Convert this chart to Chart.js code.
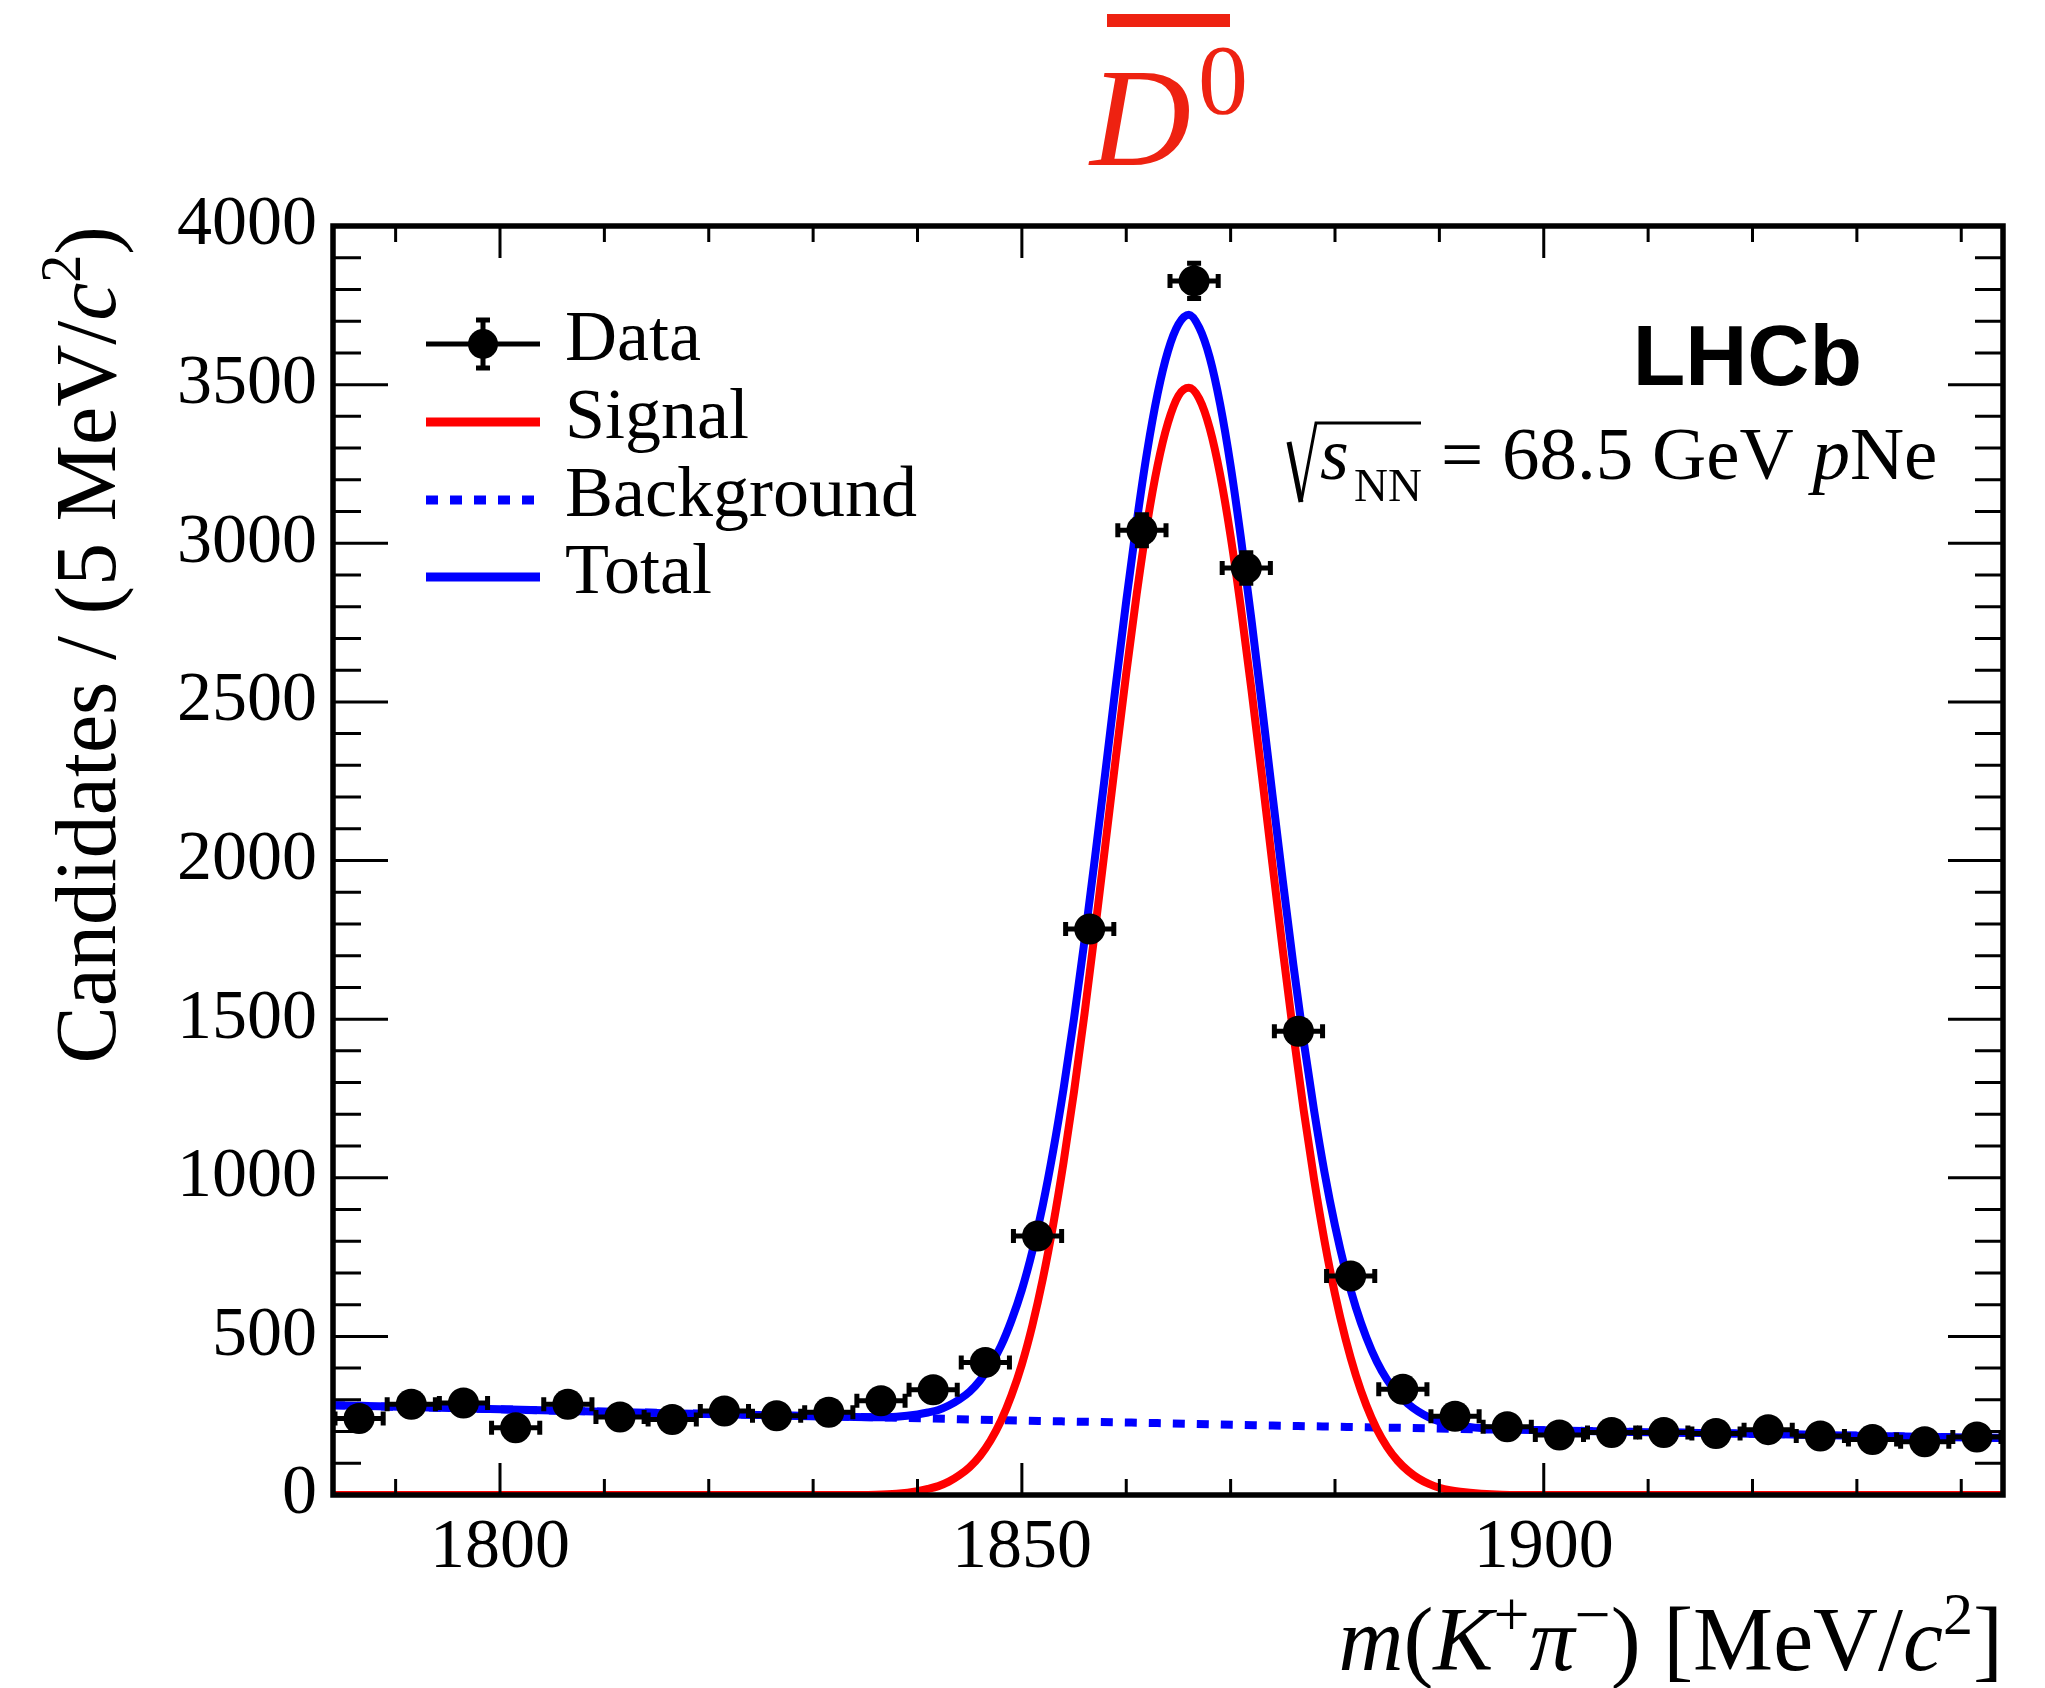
<!DOCTYPE html>
<html>
<head>
<meta charset="utf-8">
<title>D0bar mass fit</title>
<script src="https://cdn.jsdelivr.net/npm/chart.js@4.4.1/dist/chart.umd.min.js"></script>
<style>
  html, body { margin: 0; padding: 0; background: #fff; }
  canvas { display: block; }
</style>
</head>
<body>
<canvas id="massPlot" width="2045" height="1688"></canvas>
<script>
// candidates per 5 MeV bin, 1784 - 1944 MeV
const binCentres = [1786.5, 1791.5, 1796.5, 1801.5, 1806.5, 1811.5, 1816.5, 1821.5,
  1826.5, 1831.5, 1836.5, 1841.5, 1846.5, 1851.5, 1856.5, 1861.5,
  1866.5, 1871.5, 1876.5, 1881.5, 1886.5, 1891.5, 1896.5, 1901.5,
  1906.5, 1911.5, 1916.5, 1921.5, 1926.5, 1931.5, 1936.5, 1941.5];
const candidates = [241, 286, 290, 212, 286, 246, 238, 265,
  250, 261, 297, 332, 418, 816, 1784, 3041,
  3827, 2922, 1462, 690, 333, 248, 215, 189,
  197, 197, 194, 206, 186, 175, 168, 183];
const candErrors = [16, 17, 17, 15, 17, 16, 15, 16,
  16, 16, 17, 18, 20, 29, 42, 55,
  62, 54, 38, 26, 18, 16, 15, 14,
  14, 14, 14, 14, 14, 13, 13, 14];
const binHalfWidth = 2.5;

// fit curves sampled along the mass axis
const fitMass = [1784, 1800, 1816, 1826, 1832, 1836, 1838,
  1840, 1841, 1842, 1843, 1844, 1845, 1846, 1847, 1848, 1849,
  1850, 1851, 1852, 1853, 1854, 1855, 1856, 1857, 1858, 1859,
  1860, 1861, 1862, 1863, 1864, 1865, 1866, 1867, 1868, 1869,
  1870, 1871, 1872, 1873, 1874, 1875, 1876, 1877, 1878, 1879,
  1880, 1881, 1882, 1883, 1884, 1885, 1886, 1887, 1888, 1889,
  1890, 1891, 1892, 1894, 1896, 1900, 1910, 1920, 1930, 1944];
const signalFit = [0, 0, 0, 0, 0, 1, 4,
  12, 19, 28, 42, 62, 88, 124, 172, 234, 314,
  412, 534, 680, 852, 1050, 1272, 1516, 1778, 2050, 2324,
  2590, 2840, 3062, 3245, 3380, 3465, 3490, 3455, 3362, 3215,
  3022, 2792, 2537, 2267, 1990, 1717, 1456, 1213, 994, 800,
  633, 493, 377, 283, 208, 151, 108, 76, 52, 35,
  23, 15, 10, 4, 1, 0, 0, 0, 0, 0];
const totalFit = [283, 270, 258, 251, 247, 245, 247,
  254, 260, 268, 282, 301, 326, 362, 409, 470, 550,
  647, 768, 913, 1085, 1282, 1503, 1747, 2008, 2279, 2553,
  2818, 3067, 3289, 3471, 3606, 3690, 3720, 3679, 3585, 3437,
  3244, 3013, 2758, 2487, 2209, 1936, 1674, 1430, 1211, 1016,
  849, 708, 591, 497, 421, 363, 320, 287, 263, 245,
  232, 224, 218, 211, 207, 204, 198, 193, 187, 180];
const bkgMass = [1784, 1794, 1804, 1814, 1824, 1834, 1844, 1854, 1864,
  1874, 1884, 1894, 1904, 1914, 1924, 1934, 1944];
const bkgFit = [283, 275, 267, 260, 253, 246, 239, 232, 226,
  219, 213, 207, 202, 196, 191, 185, 180];

const xTickValues = [1800, 1850, 1900];
const yTickValues = [0, 500, 1000, 1500, 2000, 2500, 3000, 3500, 4000];
const xMinorStep = 10;
const yMinorStep = 100;

const serif = '"Liberation Serif", "Times New Roman", serif';
const font = (size, style) => (style ? style + ' ' : '') + size + 'px ' + serif;
const titleRed = '#ee2211';

const toPoints = (xs, ys) => xs.map((x, i) => ({ x: x, y: ys[i] }));

// draw a row of text pieces (different fonts / raised or lowered parts)
function drawRuns(ctx, runs, x, y, align) {
  const widths = runs.map(r => { ctx.font = r.font; return ctx.measureText(r.t).width; });
  let cx = align === 'right' ? x - widths.reduce((a, b) => a + b, 0) : x;
  runs.forEach((r, i) => {
    ctx.font = r.font;
    ctx.fillText(r.t, cx, y + (r.dy || 0));
    cx += widths[i];
  });
}

const errorBars = {
  id: 'errorBars',
  beforeDatasetDraw(chart, args) {
    if (args.index !== 0) return;
    const { ctx, scales: { x, y } } = chart;
    ctx.save();
    ctx.strokeStyle = '#000';
    ctx.lineWidth = 5;
    binCentres.forEach((m, i) => {
      const px = x.getPixelForValue(m);
      const py = y.getPixelForValue(candidates[i]);
      const xl = x.getPixelForValue(m - binHalfWidth);
      const xr = x.getPixelForValue(m + binHalfWidth);
      const yt = y.getPixelForValue(candidates[i] + candErrors[i]);
      const yb = y.getPixelForValue(candidates[i] - candErrors[i]);
      ctx.beginPath();
      ctx.moveTo(xl, py); ctx.lineTo(xr, py);
      ctx.moveTo(px, yt); ctx.lineTo(px, yb);
      ctx.moveTo(xl + 2, py - 7); ctx.lineTo(xl + 2, py + 7);
      ctx.moveTo(xr - 2, py - 7); ctx.lineTo(xr - 2, py + 7);
      ctx.moveTo(px - 7, yt + 2); ctx.lineTo(px + 7, yt + 2);
      ctx.moveTo(px - 7, yb - 2); ctx.lineTo(px + 7, yb - 2);
      ctx.stroke();
    });
    ctx.restore();
  }
};

// closed frame with inward major and minor ticks on all four sides
const frame = {
  id: 'frame',
  afterDatasetsDraw(chart) {
    const { ctx, chartArea: a, scales: { x, y } } = chart;
    ctx.save();
    ctx.strokeStyle = '#000';
    ctx.lineWidth = 3;
    ctx.beginPath();
    for (let v = Math.ceil(x.min / xMinorStep) * xMinorStep; v <= x.max; v += xMinorStep) {
      const p = x.getPixelForValue(v);
      const len = xTickValues.includes(v) ? 32 : 16;
      ctx.moveTo(p, a.bottom); ctx.lineTo(p, a.bottom - len);
      ctx.moveTo(p, a.top); ctx.lineTo(p, a.top + len);
    }
    for (let v = y.min; v <= y.max; v += yMinorStep) {
      const p = y.getPixelForValue(v);
      const len = yTickValues.includes(v) ? 55 : 28;
      ctx.moveTo(a.left, p); ctx.lineTo(a.left + len, p);
      ctx.moveTo(a.right, p); ctx.lineTo(a.right - len, p);
    }
    ctx.stroke();
    ctx.lineWidth = 5.5;
    ctx.strokeRect(a.left, a.top, a.right - a.left, a.bottom - a.top);
    ctx.restore();
  }
};

const annotations = {
  id: 'annotations',
  afterDraw(chart) {
    const { ctx, chartArea: a } = chart;
    ctx.save();
    ctx.textAlign = 'left';
    ctx.textBaseline = 'alphabetic';

    // anti-D0 label above the frame
    ctx.fillStyle = titleRed;
    ctx.font = font(140, 'italic');
    ctx.fillText('D', 1090, 165);
    ctx.font = font(100);
    ctx.fillText('0', 1198, 113);
    ctx.fillRect(1107, 14, 123, 13);

    ctx.fillStyle = '#000';
    // axis titles
    drawRuns(ctx, [
      { t: 'm', font: font(90, 'italic') },
      { t: '(', font: font(90) },
      { t: 'K', font: font(90, 'italic') },
      { t: '+', font: font(64), dy: -34 },
      { t: 'π', font: font(90, 'italic') },
      { t: '−', font: font(64), dy: -34 },
      { t: ') [MeV/', font: font(90) },
      { t: 'c', font: font(90, 'italic') },
      { t: '2', font: font(60), dy: -36 },
      { t: ']', font: font(90) }
    ], a.right, 1670, 'right');

    ctx.save();
    ctx.translate(115, a.top);
    ctx.rotate(-Math.PI / 2);
    drawRuns(ctx, [
      { t: 'Candidates / (5 MeV/', font: font(86) },
      { t: 'c', font: font(86, 'italic') },
      { t: '2', font: font(56), dy: -35 },
      { t: ')', font: font(86) }
    ], 0, 0, 'right');
    ctx.restore();

    // experiment label and collision system
    ctx.font = 'bold 86px "Liberation Sans", Arial, sans-serif';
    ctx.textAlign = 'right';
    ctx.fillText('LHCb', 1862, 385);
    ctx.textAlign = 'left';

    ctx.strokeStyle = '#000';
    ctx.lineJoin = 'miter';
    ctx.lineWidth = 5;
    ctx.beginPath();
    ctx.moveTo(1289, 442); ctx.lineTo(1301, 502);
    ctx.stroke();
    ctx.lineWidth = 3;
    ctx.beginPath();
    ctx.moveTo(1301, 502); ctx.lineTo(1316, 423); ctx.lineTo(1421, 423);
    ctx.stroke();
    ctx.font = font(74, 'italic');
    ctx.fillText('s', 1320, 479);
    ctx.font = font(47);
    ctx.fillText('NN', 1354, 501);
    drawRuns(ctx, [
      { t: '= 68.5 GeV ', font: font(75) },
      { t: 'p', font: font(75, 'italic') },
      { t: 'Ne', font: font(75) }
    ], 1441, 479, 'left');

    // legend
    const lx0 = a.left + 93, lx1 = a.left + 207, tx = a.left + 232;
    const rows = [360, 438, 516, 593];
    chart.data.datasets.forEach((ds, i) => {
      const base = rows[i], cy = base - 16;
      ctx.save();
      if (i === 0) {
        const cx = (lx0 + lx1) / 2;
        ctx.strokeStyle = '#000';
        ctx.lineWidth = 5;
        ctx.beginPath();
        ctx.moveTo(lx0, cy); ctx.lineTo(lx1, cy);
        ctx.moveTo(cx, cy - 26); ctx.lineTo(cx, cy + 26);
        ctx.moveTo(cx - 7, cy - 24); ctx.lineTo(cx + 7, cy - 24);
        ctx.moveTo(cx - 7, cy + 24); ctx.lineTo(cx + 7, cy + 24);
        ctx.stroke();
        ctx.fillStyle = '#000';
        ctx.beginPath();
        ctx.arc(cx, cy, 15, 0, Math.PI * 2);
        ctx.fill();
      } else {
        ctx.strokeStyle = ds.borderColor;
        ctx.lineWidth = 9;
        ctx.setLineDash(ds.borderDash || []);
        ctx.beginPath();
        ctx.moveTo(lx0, cy); ctx.lineTo(lx1, cy);
        ctx.stroke();
      }
      ctx.restore();
      ctx.font = font(72);
      ctx.fillText(ds.label, tx, base);
    });
    ctx.restore();
  }
};

new Chart(document.getElementById('massPlot'), {
  type: 'scatter',
  data: {
    datasets: [
      {
        label: 'Data',
        data: toPoints(binCentres, candidates),
        backgroundColor: '#000',
        borderWidth: 0,
        pointRadius: 15.5,
        pointHoverRadius: 15.5,
        order: 0
      },
      {
        label: 'Signal',
        data: toPoints(fitMass, signalFit),
        showLine: true,
        borderColor: '#ff0000',
        borderWidth: 8,
        pointRadius: 0,
        cubicInterpolationMode: 'monotone',
        order: 1
      },
      {
        label: 'Background',
        data: toPoints(bkgMass, bkgFit),
        showLine: true,
        borderColor: '#0000ff',
        borderWidth: 8,
        borderDash: [12, 12],
        pointRadius: 0,
        cubicInterpolationMode: 'monotone',
        order: 3
      },
      {
        label: 'Total',
        data: toPoints(fitMass, totalFit),
        showLine: true,
        borderColor: '#0000ff',
        borderWidth: 8,
        pointRadius: 0,
        cubicInterpolationMode: 'monotone',
        order: 2
      }
    ]
  },
  options: {
    responsive: false,
    animation: false,
    devicePixelRatio: 1,
    layout: { padding: { top: 226, right: 42, left: 0, bottom: 0 } },
    plugins: {
      legend: { display: false },
      tooltip: { enabled: false }
    },
    scales: {
      x: {
        type: 'linear',
        min: 1784,
        max: 1944,
        grid: { display: false, drawTicks: false },
        border: { display: false },
        ticks: {
          color: '#000',
          padding: 12,
          font: { family: serif, size: 70 },
          callback: v => String(v)
        },
        afterBuildTicks: scale => { scale.ticks = xTickValues.map(v => ({ value: v })); },
        afterFit: scale => { scale.height = 193; }
      },
      y: {
        type: 'linear',
        min: 0,
        max: 4000,
        grid: { display: false, drawTicks: false },
        border: { display: false },
        ticks: {
          color: '#000',
          padding: 16,
          font: { family: serif, size: 70 },
          callback: v => String(v)
        },
        afterBuildTicks: scale => { scale.ticks = yTickValues.map(v => ({ value: v })); },
        afterFit: scale => { scale.width = 333; }
      }
    }
  },
  plugins: [errorBars, frame, annotations]
});
</script>
</body>
</html>
